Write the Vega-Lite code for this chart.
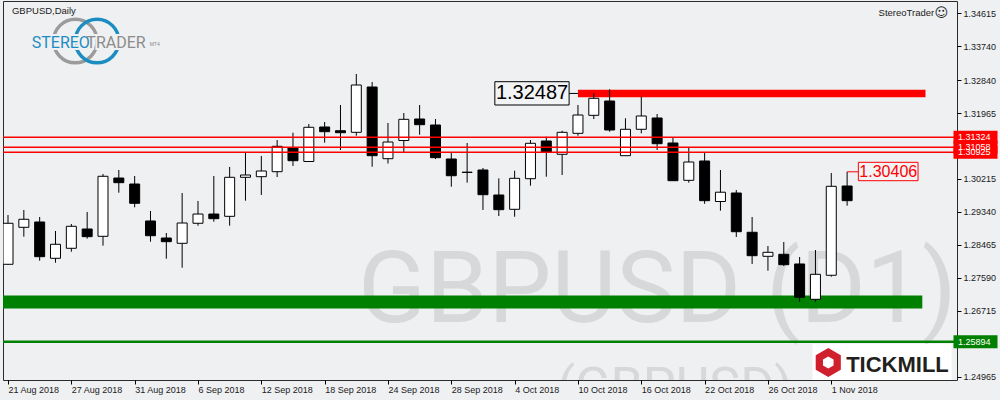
{
  "$schema": "https://vega.github.io/schema/vega-lite/v6.json",
  "width": 954,
  "height": 379,
  "autosize": {"type": "none"},
  "padding": {"left": 3, "top": 1, "right": 43, "bottom": 20},
  "background": "#eff0f2",
  "config": {"view": {"stroke": "#2b2b2b", "strokeWidth": 1, "fill": "#eff0f2"}, "font": "Liberation Sans",
    "axis": {"labelOverlap": false, "labelFlush": false, "labelBound": false},
    "axisY": {"labelOverlap": false}, "axisX": {"labelOverlap": false}},
  "datasets": {
    "candles": [
      {"bar": 0, "date": "2018-08-21", "open": 1.27950, "high": 1.29259, "low": 1.27940, "close": 1.29039},
      {"bar": 1, "date": "2018-08-22", "open": 1.28932, "high": 1.29392, "low": 1.28683, "close": 1.29145},
      {"bar": 2, "date": "2018-08-23", "open": 1.29073, "high": 1.29206, "low": 1.28045, "close": 1.28152},
      {"bar": 3, "date": "2018-08-24", "open": 1.28109, "high": 1.28834, "low": 1.27992, "close": 1.28481},
      {"bar": 4, "date": "2018-08-27", "open": 1.28375, "high": 1.29020, "low": 1.28284, "close": 1.28959},
      {"bar": 5, "date": "2018-08-28", "open": 1.28887, "high": 1.29339, "low": 1.28630, "close": 1.28683},
      {"bar": 6, "date": "2018-08-29", "open": 1.28693, "high": 1.30348, "low": 1.28444, "close": 1.30287},
      {"bar": 7, "date": "2018-08-30", "open": 1.30241, "high": 1.30454, "low": 1.29851, "close": 1.30117},
      {"bar": 8, "date": "2018-08-31", "open": 1.30082, "high": 1.30295, "low": 1.29463, "close": 1.29570},
      {"bar": 9, "date": "2018-09-03", "open": 1.29100, "high": 1.29365, "low": 1.28550, "close": 1.28709},
      {"bar": 10, "date": "2018-09-04", "open": 1.28648, "high": 1.28781, "low": 1.28098, "close": 1.28550},
      {"bar": 11, "date": "2018-09-05", "open": 1.28507, "high": 1.29843, "low": 1.27859, "close": 1.29046},
      {"bar": 12, "date": "2018-09-06", "open": 1.29039, "high": 1.29631, "low": 1.28975, "close": 1.29285},
      {"bar": 13, "date": "2018-09-07", "open": 1.29285, "high": 1.30295, "low": 1.29081, "close": 1.29161},
      {"bar": 14, "date": "2018-09-10", "open": 1.29224, "high": 1.30534, "low": 1.28975, "close": 1.30260},
      {"bar": 15, "date": "2018-09-11", "open": 1.30260, "high": 1.30913, "low": 1.29639, "close": 1.30321},
      {"bar": 16, "date": "2018-09-12", "open": 1.30276, "high": 1.30826, "low": 1.29790, "close": 1.30427},
      {"bar": 17, "date": "2018-09-13", "open": 1.30409, "high": 1.31250, "low": 1.30268, "close": 1.31083},
      {"bar": 18, "date": "2018-09-14", "open": 1.31046, "high": 1.31444, "low": 1.30560, "close": 1.30701},
      {"bar": 19, "date": "2018-09-17", "open": 1.30680, "high": 1.31675, "low": 1.30667, "close": 1.31588},
      {"bar": 20, "date": "2018-09-18", "open": 1.31596, "high": 1.31729, "low": 1.31179, "close": 1.31471},
      {"bar": 21, "date": "2018-09-19", "open": 1.31497, "high": 1.32180, "low": 1.30985, "close": 1.31444},
      {"bar": 22, "date": "2018-09-20", "open": 1.31455, "high": 1.33003, "low": 1.31365, "close": 1.32711},
      {"bar": 23, "date": "2018-09-21", "open": 1.32658, "high": 1.32791, "low": 1.30541, "close": 1.30834},
      {"bar": 24, "date": "2018-09-24", "open": 1.30754, "high": 1.31702, "low": 1.30626, "close": 1.31197},
      {"bar": 25, "date": "2018-09-25", "open": 1.31237, "high": 1.31967, "low": 1.30932, "close": 1.31800},
      {"bar": 26, "date": "2018-09-26", "open": 1.31808, "high": 1.32180, "low": 1.31391, "close": 1.31657},
      {"bar": 27, "date": "2018-09-27", "open": 1.31649, "high": 1.31808, "low": 1.30746, "close": 1.30781},
      {"bar": 28, "date": "2018-09-28", "open": 1.30746, "high": 1.30913, "low": 1.30010, "close": 1.30302},
      {"bar": 29, "date": "2018-10-01", "open": 1.30395, "high": 1.31171, "low": 1.30117, "close": 1.30390},
      {"bar": 30, "date": "2018-10-02", "open": 1.30454, "high": 1.30507, "low": 1.29392, "close": 1.29798},
      {"bar": 31, "date": "2018-10-03", "open": 1.29790, "high": 1.30233, "low": 1.29232, "close": 1.29400},
      {"bar": 32, "date": "2018-10-04", "open": 1.29410, "high": 1.30435, "low": 1.29214, "close": 1.30233},
      {"bar": 33, "date": "2018-10-05", "open": 1.30223, "high": 1.31250, "low": 1.30037, "close": 1.31163},
      {"bar": 34, "date": "2018-10-08", "open": 1.31224, "high": 1.31338, "low": 1.30276, "close": 1.30932},
      {"bar": 35, "date": "2018-10-09", "open": 1.30871, "high": 1.31497, "low": 1.30321, "close": 1.31455},
      {"bar": 36, "date": "2018-10-10", "open": 1.31428, "high": 1.32180, "low": 1.31365, "close": 1.31914},
      {"bar": 37, "date": "2018-10-11", "open": 1.31906, "high": 1.32491, "low": 1.31808, "close": 1.32358},
      {"bar": 38, "date": "2018-10-12", "open": 1.32286, "high": 1.32597, "low": 1.31471, "close": 1.31516},
      {"bar": 39, "date": "2018-10-15", "open": 1.30834, "high": 1.31827, "low": 1.30826, "close": 1.31535},
      {"bar": 40, "date": "2018-10-16", "open": 1.31535, "high": 1.32400, "low": 1.31428, "close": 1.31888},
      {"bar": 41, "date": "2018-10-17", "open": 1.31835, "high": 1.31941, "low": 1.30985, "close": 1.31152},
      {"bar": 42, "date": "2018-10-18", "open": 1.31171, "high": 1.31322, "low": 1.30162, "close": 1.30170},
      {"bar": 43, "date": "2018-10-19", "open": 1.30180, "high": 1.31046, "low": 1.30117, "close": 1.30666},
      {"bar": 44, "date": "2018-10-22", "open": 1.30693, "high": 1.30905, "low": 1.29556, "close": 1.29639},
      {"bar": 45, "date": "2018-10-23", "open": 1.29617, "high": 1.30454, "low": 1.29373, "close": 1.29864},
      {"bar": 46, "date": "2018-10-24", "open": 1.29843, "high": 1.29923, "low": 1.28675, "close": 1.28815},
      {"bar": 47, "date": "2018-10-25", "open": 1.28800, "high": 1.29206, "low": 1.27958, "close": 1.28178},
      {"bar": 48, "date": "2018-10-26", "open": 1.28162, "high": 1.28436, "low": 1.27780, "close": 1.28268},
      {"bar": 49, "date": "2018-10-29", "open": 1.28215, "high": 1.28542, "low": 1.27905, "close": 1.27939},
      {"bar": 50, "date": "2018-10-30", "open": 1.27958, "high": 1.28144, "low": 1.26957, "close": 1.27073},
      {"bar": 51, "date": "2018-10-31", "open": 1.27020, "high": 1.28329, "low": 1.26957, "close": 1.27684},
      {"bar": 52, "date": "2018-11-01", "open": 1.27658, "high": 1.30374, "low": 1.27620, "close": 1.30021},
      {"bar": 53, "date": "2018-11-02", "open": 1.30029, "high": 1.30406, "low": 1.29506, "close": 1.29639}
    ]
  },
  "layer": [
    {
      "data": {"values": [{"bar": 22.1, "price": 1.26411, "label": "GBPUSD (D1)"}]},
      "mark": {"type": "text", "align": "left", "baseline": "alphabetic", "font": "Roboto", "fontSize": 100, "color": "#d7d8da", "clip": true},
      "encoding": {
        "x": {"field": "bar", "type": "quantitative", "scale": {"domain": [0, 59.625], "nice": false, "zero": false},
          "axis": {"values": [0, 4, 8, 12, 16, 20, 24, 28, 32, 36, 40, 44, 48, 52], "tickCount": 40,
            "labelExpr": "['21 Aug 2018','27 Aug 2018','31 Aug 2018','6 Sep 2018','12 Sep 2018','18 Sep 2018','24 Sep 2018','28 Sep 2018','4 Oct 2018','10 Oct 2018','16 Oct 2018','22 Oct 2018','26 Oct 2018','1 Nov 2018'][datum.value/4]",
            "title": null, "grid": false, "domain": false, "ticks": true, "tickColor": "#000000", "tickSize": 4, "tickWidth": 1, "labelAlign": "left", "labelBaseline": "top", "labelPadding": 1, "labelFontSize": 9, "labelColor": "#1a1a1a", "labelFont": "Liberation Sans", "labelFlush": false, "labelOverlap": false, "zindex": 0}},
        "y": {"field": "price", "type": "quantitative", "scale": {"domain": [1.24877, 1.34942], "nice": false, "zero": false},
          "axis": {"orient": "right", "values": [1.34615, 1.3374, 1.3284, 1.31965, 1.3109, 1.30215, 1.2934, 1.28465, 1.2759, 1.26715, 1.2584, 1.24965], "tickCount": 40,
            "format": ".5f", "title": null, "grid": false, "domain": false, "ticks": true, "tickColor": "#000000", "tickSize": 4, "tickWidth": 1, "labelPadding": 2, "labelFontSize": 9, "labelColor": "#1a1a1a", "labelFont": "Liberation Sans", "labelAlign": "left", "labelBaseline": "middle", "labelFlush": false, "labelOverlap": false, "zindex": 0}},
        "text": {"field": "label"}
      }
    },
    {
      "data": {"values": [{"bar": 34.69, "price": 1.2424, "label": "(GBPUSD)"}]},
      "mark": {"type": "text", "align": "left", "baseline": "alphabetic", "font": "Roboto", "fontSize": 52, "color": "#d7d8da", "clip": true},
      "encoding": {
        "x": {"field": "bar", "type": "quantitative"},
        "y": {"field": "price", "type": "quantitative"},
        "text": {"field": "label"}
      }
    },
    {
      "data": {"values": [{"start": -1, "end": 57.75, "price": 1.26949}]},
      "mark": {"type": "rule", "color": "#008000", "strokeWidth": 13, "clip": true},
      "encoding": {
        "x": {"field": "start", "type": "quantitative"},
        "x2": {"field": "end"},
        "y": {"field": "price", "type": "quantitative"}
      }
    },
    {
      "data": {"values": [{"start": 36, "end": 57.95, "price": 1.32487}]},
      "mark": {"type": "rule", "color": "#ff0000", "strokeWidth": 7.5, "clip": true},
      "encoding": {
        "x": {"field": "start", "type": "quantitative"},
        "x2": {"field": "end"},
        "y": {"field": "price", "type": "quantitative"}
      }
    },
    {
      "data": {"name": "candles"},
      "mark": {"type": "rule", "color": "#000000", "strokeWidth": 1, "clip": true},
      "encoding": {
        "x": {"field": "bar", "type": "quantitative"},
        "y": {"field": "low", "type": "quantitative"},
        "y2": {"field": "high"}
      }
    },
    {
      "data": {"name": "candles"},
      "mark": {"type": "bar", "width": 10, "stroke": "#000000", "strokeWidth": 1, "clip": true},
      "encoding": {
        "x": {"field": "bar", "type": "quantitative"},
        "y": {"field": "open", "type": "quantitative"},
        "y2": {"field": "close"},
        "fill": {"condition": {"test": "datum.close >= datum.open", "value": "#ffffff"}, "value": "#000000"}
      }
    },
    {
      "data": {"values": [{"price": 1.31324}, {"price": 1.31058}, {"price": 1.30925}]},
      "mark": {"type": "rule", "color": "#ff0000", "strokeWidth": 1.3},
      "encoding": {"y": {"field": "price", "type": "quantitative"}}
    },
    {
      "data": {"values": [{"price": 1.25894}]},
      "mark": {"type": "rule", "color": "#008000", "strokeWidth": 2.5},
      "encoding": {"y": {"field": "price", "type": "quantitative"}}
    },
    {
      "data": {"values": [{"price": 1.30925}, {"price": 1.31324}, {"price": 1.31058}]},
      "mark": {"type": "rule", "color": "#ff0000", "strokeWidth": 13},
      "encoding": {
        "x": {"datum": 59.72},
        "x2": {"datum": 62.5},
        "y": {"field": "price", "type": "quantitative"}
      }
    },
    {
      "data": {"values": [{"price": 1.30925}, {"price": 1.31324}, {"price": 1.31058}]},
      "mark": {"type": "text", "align": "left", "baseline": "middle", "fontSize": 9, "color": "#ffffff", "font": "Liberation Sans"},
      "encoding": {
        "x": {"datum": 60.0},
        "y": {"field": "price", "type": "quantitative"},
        "text": {"field": "price", "format": ".5f"}
      }
    },
    {
      "data": {"values": [{"price": 1.25894}]},
      "mark": {"type": "rule", "color": "#008000", "strokeWidth": 13},
      "encoding": {
        "x": {"datum": 59.72},
        "x2": {"datum": 62.5},
        "y": {"field": "price", "type": "quantitative"}
      }
    },
    {
      "data": {"values": [{"price": 1.25894}]},
      "mark": {"type": "text", "align": "left", "baseline": "middle", "fontSize": 9, "color": "#ffffff", "font": "Liberation Sans"},
      "encoding": {
        "x": {"datum": 60.0},
        "y": {"field": "price", "type": "quantitative"},
        "text": {"field": "price", "format": ".5f"}
      }
    },
    {
      "data": {"values": [{"price": 1.32487}]},
      "mark": {"type": "rule", "color": "#000000", "strokeWidth": 1},
      "encoding": {
        "x": {"datum": 35.44},
        "x2": {"datum": 36},
        "y": {"field": "price", "type": "quantitative"}
      }
    },
    {
      "data": {"values": [{"price": 1.32487}]},
      "mark": {"type": "rect", "fill": "#f2f3f5", "stroke": "#000000", "strokeWidth": 1},
      "encoding": {
        "x": {"datum": 30.75},
        "x2": {"datum": 35.44},
        "y": {"datum": 1.3218},
        "y2": {"datum": 1.32799}
      }
    },
    {
      "data": {"values": [{"price": 1.32487}]},
      "mark": {"type": "text", "align": "center", "baseline": "middle", "fontSize": 20, "color": "#000000", "font": "Liberation Sans"},
      "encoding": {
        "x": {"datum": 33.1},
        "y": {"field": "price", "type": "quantitative"},
        "text": {"field": "price", "format": ".5f"}
      }
    },
    {
      "data": {"values": [{"price": 1.30406}]},
      "mark": {"type": "rule", "color": "#ff0000", "strokeWidth": 1},
      "encoding": {
        "x": {"datum": 53},
        "x2": {"datum": 53.71},
        "y": {"field": "price", "type": "quantitative"}
      }
    },
    {
      "data": {"values": [{"price": 1.30406}]},
      "mark": {"type": "rect", "fill": "#f2f3f5", "stroke": "#ff0000", "strokeWidth": 1},
      "encoding": {
        "x": {"datum": 53.71},
        "x2": {"datum": 57.48},
        "y": {"datum": 1.3017},
        "y2": {"datum": 1.30658}
      }
    },
    {
      "data": {"values": [{"price": 1.30406}]},
      "mark": {"type": "text", "align": "center", "baseline": "middle", "fontSize": 16, "color": "#ff0000", "font": "Liberation Sans"},
      "encoding": {
        "x": {"datum": 55.6},
        "y": {"field": "price", "type": "quantitative"},
        "text": {"field": "price", "format": ".5f"}
      }
    },
    {
      "data": {"values": [{"label": "GBPUSD,Daily"}]},
      "mark": {"type": "text", "align": "left", "baseline": "middle", "fontSize": 9.5, "color": "#1a1a1a", "font": "Liberation Sans"},
      "encoding": {"x": {"datum": 0.25}, "y": {"datum": 1.34676}, "text": {"field": "label"}}
    },
    {
      "data": {"values": [{"label": "StereoTrader"}]},
      "mark": {"type": "text", "align": "right", "baseline": "middle", "fontSize": 9.5, "color": "#1a1a1a", "font": "Liberation Sans"},
      "encoding": {"x": {"datum": 58.5}, "y": {"datum": 1.34631}, "text": {"field": "label"}}
    },
    {
      "data": {"values": [{"label": "☺"}]},
      "mark": {"type": "text", "align": "center", "baseline": "middle", "fontSize": 13, "color": "#1a1a1a", "font": "DejaVu Sans"},
      "encoding": {"x": {"datum": 58.95}, "y": {"datum": 1.34631}, "text": {"field": "label"}}
    },
    {
      "data": {"values": [{"bar": 4.25, "price": 1.33879}]},
      "mark": {"type": "point", "shape": "circle", "size": 1900, "filled": false, "stroke": "#9b9b9b", "strokeWidth": 3.5, "opacity": 1},
      "encoding": {"x": {"field": "bar", "type": "quantitative"}, "y": {"field": "price", "type": "quantitative"}}
    },
    {
      "data": {"values": [{"bar": 5.625, "price": 1.33879}]},
      "mark": {"type": "point", "shape": "circle", "size": 1900, "filled": false, "stroke": "#1c8dc1", "strokeWidth": 3.5, "opacity": 1},
      "encoding": {"x": {"field": "bar", "type": "quantitative"}, "y": {"field": "price", "type": "quantitative"}}
    },
    {
      "data": {"values": [{"bar": 1.5, "price": 1.33694, "label": "STEREO"}, {"bar": 4.95, "price": 1.33694, "label": "TRADER"}]},
      "mark": {"type": "text", "align": "left", "baseline": "alphabetic", "fontSize": 16, "font": "Roboto", "fill": "#eff0f2", "stroke": "#eff0f2", "strokeWidth": 4},
      "encoding": {"x": {"field": "bar", "type": "quantitative"}, "y": {"field": "price", "type": "quantitative"}, "text": {"field": "label"}}
    },
    {
      "data": {"values": [{"bar": 1.5, "price": 1.33694, "label": "STEREO"}]},
      "mark": {"type": "text", "align": "left", "baseline": "alphabetic", "fontSize": 16, "font": "Roboto", "color": "#1c8dc1"},
      "encoding": {"x": {"field": "bar", "type": "quantitative"}, "y": {"field": "price", "type": "quantitative"}, "text": {"field": "label"}}
    },
    {
      "data": {"values": [{"bar": 4.95, "price": 1.33694, "label": "TRADER"}]},
      "mark": {"type": "text", "align": "left", "baseline": "alphabetic", "fontSize": 16, "font": "Roboto", "color": "#8c8c8c"},
      "encoding": {"x": {"field": "bar", "type": "quantitative"}, "y": {"field": "price", "type": "quantitative"}, "text": {"field": "label"}}
    },
    {
      "data": {"values": [{"bar": 8.95, "price": 1.33735, "label": "MT4"}]},
      "mark": {"type": "text", "align": "left", "baseline": "alphabetic", "fontSize": 5, "font": "Roboto", "color": "#8c8c8c"},
      "encoding": {"x": {"field": "bar", "type": "quantitative"}, "y": {"field": "price", "type": "quantitative"}, "text": {"field": "label"}}
    },
    {
      "data": {"values": [{"label": "TICKMILL"}]},
      "mark": {"type": "rect", "fill": "#ffffff", "clip": true},
      "encoding": {"x": {"datum": 50.81}, "x2": {"datum": 59.6}, "y": {"datum": 1.25833}, "y2": {"datum": 1.247}}
    },
    {
      "data": {"values": [{"bar": 51.81, "price": 1.25342}]},
      "mark": {"type": "point", "shape": "M0,-1L0.866,-0.5L0.866,0.5L0,1L-0.866,0.5L-0.866,-0.5Z M0,-0.42L-0.364,-0.21L-0.364,0.21L0,0.42L0.364,0.21L0.364,-0.21Z", "size": 841, "filled": true, "fill": "#d0202e", "strokeWidth": 0, "opacity": 1},
      "encoding": {"x": {"field": "bar", "type": "quantitative"}, "y": {"field": "price", "type": "quantitative"}}
    },
    {
      "data": {"values": [{"bar": 52.94, "price": 1.2509, "label": "TICKMILL"}]},
      "mark": {"type": "text", "align": "left", "baseline": "alphabetic", "fontSize": 22, "fontWeight": "bold", "color": "#231f20", "font": "Liberation Sans"},
      "encoding": {"x": {"field": "bar", "type": "quantitative"}, "y": {"field": "price", "type": "quantitative"}, "text": {"field": "label"}}
    }
  ]
}
